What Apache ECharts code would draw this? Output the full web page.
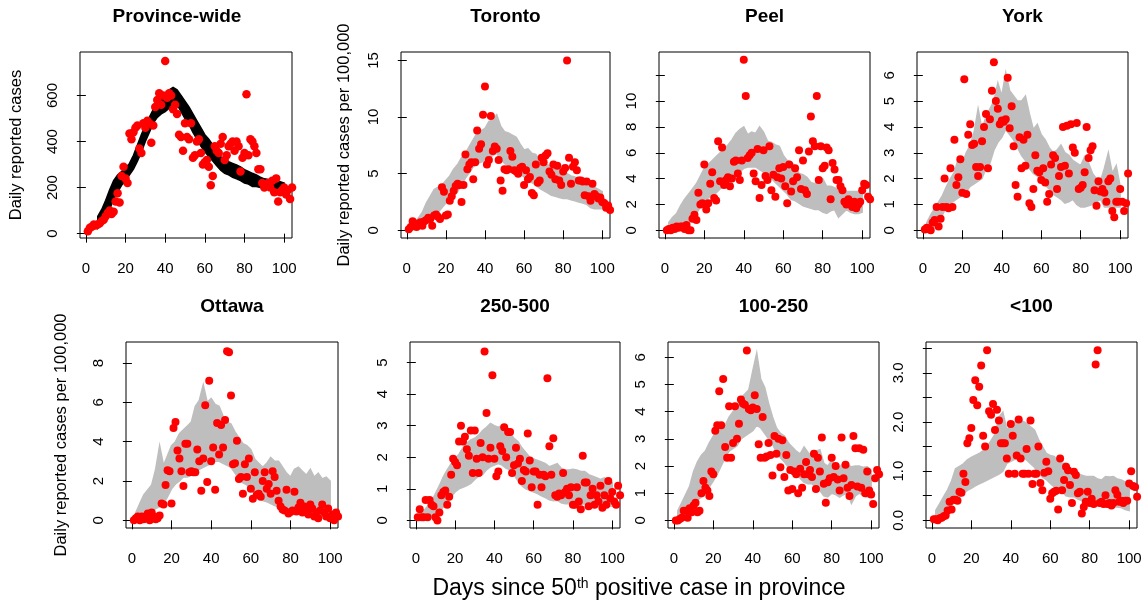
<!DOCTYPE html>
<html><head><meta charset="utf-8">
<script src="https://cdn.jsdelivr.net/npm/echarts@6/dist/echarts.min.js"></script>
<style>html,body{margin:0;padding:0;background:#fff}#c{width:1148px;height:609px}</style>
</head><body><div id="c"></div>
<script>
// ---------------- data ----------------
const days = [1,2,3,4,5,6,7,8,9,10,11,12,13,14,15,16,17,18,19,20,21,22,23,24,25,26,27,28,29,30,31,32,33,34,35,36,37,38,39,40,41,42,43,44,45,46,47,48,49,50,51,52,53,54,55,56,57,58,59,60,61,62,63,64,65,66,67,68,69,70,71,72,73,74,75,76,77,78,79,80,81,82,83,84,85,86,87,88,89,90,91,92,93,94,95,96,97,98,99,100,101,102,103,104];

const provVals = [10,25,30,40,35,40,45,55,60,75, 90,100,85,95,140,175,135,250,290,240, 220,435,410,440,460,470,370,350,480,460, 490,480,395,470,550,580,610,560,600,750, 590,610,600,540,560,520,430,420,360,480, 420,410,480,330,340,400,410,350,300,310, 320,290,210,250,380,360,350,390,420,320, 340,380,390,400,360,400,380,270,330,350, 605,340,410,400,380,350,280,280,220,200, 210,220,200,230,180,240,140,180,190,200, 170,190,150,200];
const torVals = [0.1,0.3,0.8,0.6,0.3,0.5,0.7,0.4,0.8,0.9, 1.1,1.0,0.4,1.3,1.4,1.2,1.0,3.8,3.4,1.3, 1.4,2.6,3.0,3.5,3.9,4.1,4.0,2.5,4.0,6.7, 5.4,5.8,6.0,4.5,6.0,8.8,7.2,7.6,10.2,12.7, 5.8,6.2,10.1,7.0,7.4,7.2,6.2,4.4,3.5,5.4, 5.3,5.4,7.0,6.5,5.3,5.2,5.0,5.5,5.6,4.0, 5.3,4.5,4.7,3.3,3.1,5.8,4.2,4.4,6.4,6.0, 6.6,6.8,5.2,4.9,5.8,4.5,5.7,4.4,4.0,5.2, 5.5,15.0,6.4,4.1,5.6,6.0,5.3,4.4,4.4,4.3, 3.1,4.3,3.0,2.6,4.1,3.2,3.0,2.8,2.9,2.5, 2.4,2.0,2.2,1.8];
const peelVals = [0.0,0.1,0.0,0.2,0.1,0.3,0.2,0.3,0.3,0.1, 0.4,0.0,0.0,0.9,1.2,0.8,2.9,2.0,2.1,5.1, 1.6,2.1,3.6,4.5,2.5,2.3,6.9,3.8,6.4,3.5, 3.9,4.1,3.4,4.0,5.3,5.4,4.4,3.9,5.4,13.2, 10.4,5.6,5.8,6.0,4.4,3.8,6.3,2.5,3.5,6.2, 4.2,3.9,6.5,3.1,4.3,2.6,4.1,4.8,4.0,4.9, 3.4,2.1,5.1,3.0,3.8,4.8,4.1,6.2,3.2,5.4, 3.1,2.8,6.1,8.8,6.9,6.5,10.4,3.9,6.5,4.8, 5.0,6.4,6.2,2.4,5.2,4.7,3.9,3.9,3.4,3.1, 2.2,2.0,2.4,2.0,1.8,2.2,1.7,2.0,2.2,3.1, 3.6,3.5,2.6,2.4];
const yorkVals = [0.03,0.1,0.05,0.0,0.3,0.4,0.9,0.15,0.45,0.9, 2.0,0.9,0.85,2.4,0.9,3.5,1.75,2.05,2.75,1.45, 5.85,1.4,3.7,4.1,3.3,3.35,2.45,2.1,2.45,3.45, 4.0,4.5,2.4,4.3,5.4,6.5,5.0,4.7,4.1,4.25, 4.2,4.3,5.9,3.95,4.8,3.25,1.75,1.3,3.6,2.4, 3.5,2.5,3.7,1.05,0.9,1.6,2.9,2.3,2.25,1.95, 2.4,1.85,1.1,1.4,2.55,2.9,2.8,1.6,2.1,2.45, 4.0,2.5,4.05,2.2,4.1,3.2,3.0,4.15,1.6,1.65, 1.75,2.25,4.0,2.8,3.1,3.25,1.55,0.95,1.9,1.5, 1.6,1.45,1.1,1.9,2.0,0.75,0.5,1.1,1.1,1.6, 1.1,0.75,1.05,2.2];
const ottVals = [0.0,0.1,0.2,0.0,0.2,0.05,0.2,0.35,0.0,0.4, 0.2,0.05,0.1,0.25,0.85,0.8,1.8,2.55,2.5,0.85, 4.7,5.0,3.55,3.15,2.5,1.75,3.9,3.9,2.45,2.5, 2.45,2.45,3.6,3.0,1.5,3.15,5.85,1.95,7.1,3.0, 3.7,1.55,4.95,3.35,4.85,3.7,5.1,8.6,8.55,6.35, 2.85,2.9,4.05,2.1,2.2,1.35,2.85,2.2,3.15,1.6, 1.1,2.45,1.3,1.35,1.2,2.0,2.45,1.6,1.85,1.35, 2.5,2.2,1.5,1.0,0.7,0.55,0.5,1.55,0.35,0.42, 0.5,1.45,0.45,0.65,0.9,0.4,0.7,0.5,0.3,0.8, 0.6,0.2,0.4,0.1,0.5,0.8,0.4,0.2,0.6,0.1, 0.3,0.0,0.4,0.2];
const v250Vals = [0.1,0.35,0.1,0.1,0.65,0.1,0.65,0.5,0.45,0.1, 0.0,0.25,0.8,0.9,0.95,0.5,0.75,1.45,1.95,1.85, 1.75,2.5,3.0,2.5,2.65,2.25,2.05,2.85,1.5,2.85, 1.95,1.5,2.45,2.0,5.35,3.4,1.95,2.3,4.6,1.95, 1.4,1.55,2.35,2.2,2.95,2.0,2.8,2.8,1.5,1.75, 2.3,1.8,1.95,1.25,1.6,1.55,2.75,1.9,1.05,1.55, 1.55,0.5,1.45,1.05,1.45,1.4,4.5,2.35,1.45,2.6, 0.8,0.75,0.85,0.8,1.5,0.9,1.0,0.8,1.05,0.5, 0.5,1.05,0.6,0.35,2.05,1.2,1.2,0.45,0.8,1.0, 0.5,0.8,0.6,1.1,0.4,0.8,0.5,1.25,0.7,0.9, 0.6,0.5,1.1,0.8];
const v100Vals = [0.0,0.0,0.05,0.1,0.35,0.35,0.1,0.45,0.3,0.55, 0.65,0.3,0.35,1.0,1.45,1.2,1.1,0.9,1.8,1.7, 3.3,3.5,4.75,3.5,5.2,2.7,2.3,4.2,2.3,2.85, 4.2,3.0,3.55,4.45,4.3,4.25,6.25,4.1,4.05,4.15, 4.6,4.1,2.8,2.3,3.8,2.3,2.35,2.85,2.4,1.65, 3.1,2.45,3.0,1.95,2.95,1.6,2.4,1.1,1.85,1.15, 1.8,1.7,1.0,1.9,1.2,1.7,2.15,1.7,1.85,1.6, 2.45,1.15,2.3,1.8,3.05,1.35,0.65,1.4,1.55,2.3, 1.6,2.0,1.5,1.1,3.05,1.55,2.05,1.2,0.9,1.3, 3.1,2.65,1.25,2.65,1.2,2.6,1.0,1.8,1.1,0.95, 0.6,1.55,1.85,1.7];
const vLt100Vals = [0.02,0.02,0.0,0.04,0.05,0.08,0.1,0.2,0.38,0.22, 0.42,0.42,0.4,0.58,0.56,0.95,0.78,1.57,1.67,1.88, 2.45,2.85,2.34,2.72,3.15,1.72,1.5,3.46,2.22,2.15, 2.37,1.84,2.25,2.03,1.57,1.57,1.57,1.26,0.95,1.96, 1.72,0.95,1.32,2.05,1.26,0.95,0.95,1.45,0.95,2.03, 0.74,0.95,0.95,1.5,0.76,0.61,0.97,1.19,1.0,0.44, 0.55,0.58,0.6,0.22,1.26,0.61,0.82,1.09,1.02,0.72, 0.35,0.99,0.92,0.55,0.58,0.14,0.27,0.38,0.58,0.35, 0.44,0.33,3.17,3.46,0.35,0.38,0.33,0.51,0.33,0.35, 0.3,0.35,0.61,0.52,0.38,0.4,0.35,0.4,0.4,0.75, 1.0,0.7,0.68,0.48];

// simulation envelopes (lower / upper edge of the simulated-trajectory band)
const provBandDays = [6,8,10,12,14,16,18,20,22,24,26,28,30,32,34,36,38,40,42,44,46,48,50,52,54,56,58,60,62,64,66,68,70,72,74,76,78,80,82,84,86,88,90,92,94,96,98,100];
const provLo = [25,45,73,105,150,180,210,230,255,280,315,355,400,440,480,505,520,530,545,560,560,530,500,475,440,410,380,355,335,315,295,275,262,255,245,238,230,220,215,205,205,200,198,195,195,195,195,190];
const provHi = [75,105,145,190,230,255,270,285,305,340,385,430,470,505,540,565,590,610,625,635,625,600,575,550,520,490,460,430,410,385,355,335,320,312,305,298,290,278,270,262,255,245,238,235,230,228,225,220];

const bandDays = [2,4,6,8,10,12,14,16,18,20,22,24,26,28,30,32,34,36,38,40,42,44,46,48,50,52,54,56,58,60,62,64,66,68,70,72,74,76,78,80,82,84,86,88,90,92,94,96,98,100];
const torLo = [0.0,0.1,0.2,0.3,0.6,0.9,1.3,1.6,2.0,2.4, 2.7,3.0,3.4,4.0,4.6,5.1,5.6,5.9,6.0,6.2, 6.4,6.6,6.8,6.3,5.9,5.7,5.5,5.4,5.0,4.7, 4.5,4.2,4.0,3.7,3.5,3.3,3.1,3.0,2.9,2.8, 2.8,2.7,2.6,2.5,2.4,2.3,2.0,1.9,1.9,1.9];
const torHi = [0.3,0.7,1.1,1.6,2.4,3.0,3.6,3.8,4.0,4.4, 4.8,5.4,5.8,6.4,6.8,7.4,8.0,8.6,8.8,9.0, 9.6,9.8,10.2,9.2,8.7,8.6,8.4,8.2,7.6,7.1, 7.2,6.8,6.7,6.2,5.9,5.8,5.6,5.7,5.4,5.3, 5.0,4.8,4.7,4.5,4.3,4.1,3.9,3.8,3.6,3.4];
const peelLo = [0.0,0.1,0.3,0.5,0.6,0.8,1.1,1.3,1.8,2.2, 2.5,2.7,2.9,3.2,3.4,3.7,3.9,4.1,4.5,4.8, 4.9,4.9,4.9,4.7,4.5,4.3,4.0,3.7,3.4,3.1, 2.8,2.4,2.3,2.1,1.9,1.8,1.7,1.6,1.6,1.4, 1.3,1.5,1.6,1.0,1.3,1.6,1.4,1.3,1.3,1.4];
const peelHi = [0.6,1.0,1.3,1.9,2.4,2.8,3.2,3.6,4.2,4.8, 5.1,5.4,5.7,6.0,6.3,6.6,7.0,7.5,7.8,8.0, 7.4,7.6,7.5,8.0,7.6,6.9,6.8,6.6,6.5,5.8, 5.4,5.3,5.0,4.4,4.3,4.1,3.7,3.6,3.9,4.0, 3.4,3.4,3.3,3.1,3.1,3.0,3.0,3.0,3.0,2.9];
const yorkLo = [0.0,0.05,0.15,0.35,0.6,0.9,1.05,1.15,1.25,1.35, 1.5,1.7,1.8,1.9,2.0,2.4,2.6,3.1,3.4,3.6, 3.9,3.7,3.5,3.2,2.9,2.7,2.4,2.2,2.1,1.9, 1.75,1.6,1.4,1.3,1.2,1.05,1.1,1.2,1.0,0.9, 0.9,0.95,1.0,1.1,1.2,0.9,0.9,0.9,0.9,0.9];
const yorkHi = [0.3,0.6,0.85,1.1,1.35,1.7,2.0,2.25,2.8,2.6, 3.0,3.3,3.8,4.7,3.9,4.4,4.7,5.0,5.7,5.2, 6.1,5.4,5.2,5.0,5.0,5.2,4.5,3.9,4.1,3.7, 3.5,3.2,3.0,3.1,3.3,3.0,2.9,2.7,2.6,2.5, 2.85,2.6,2.2,2.0,1.9,2.4,3.0,2.2,2.5,1.7];
const ottLo = [0.0,0.15,0.25,0.35,0.45,0.6,0.7,0.85,1.2,1.6, 1.85,2.0,2.2,2.2,2.3,2.5,2.6,2.7,2.8,2.9, 3.0,3.0,2.9,2.8,2.7,2.4,2.1,1.9,1.8,1.6, 1.3,1.15,1.0,0.95,0.85,0.75,0.7,0.68,0.6,0.5, 0.5,0.5,0.45,0.4,0.35,0.3,0.3,0.25,0.25,0.2];
const ottHi = [0.4,0.85,1.3,1.55,1.8,2.6,3.8,2.8,3.3,3.8, 4.0,4.4,4.6,4.8,5.0,5.8,6.1,6.9,6.0,6.2, 5.9,5.8,5.3,5.0,4.9,4.5,4.2,3.9,3.8,3.6, 3.1,2.9,2.7,2.9,3.2,3.0,3.0,2.7,2.4,2.2, 2.6,2.7,2.5,2.3,2.6,2.2,2.4,2.1,2.2,2.0];
const v250Lo = [0.0,0.05,0.08,0.12,0.18,0.3,0.42,0.6,0.75,0.9, 1.0,1.05,1.1,1.17,1.3,1.4,1.45,1.6,1.7,1.75, 1.8,1.75,1.65,1.6,1.45,1.25,1.1,1.0,0.95,0.9, 0.85,0.78,0.72,0.65,0.62,0.64,0.56,0.53,0.53,0.5, 0.42,0.5,0.53,0.5,0.5,0.45,0.5,0.48,0.45,0.45];
const v250Hi = [0.2,0.3,0.45,0.6,0.85,1.1,1.38,1.6,1.8,1.95, 2.1,2.3,2.45,2.55,2.6,2.7,2.85,2.95,3.07,3.0, 2.95,3.0,2.85,2.75,2.6,2.5,2.3,2.15,2.0,1.95, 1.9,1.85,1.8,1.7,1.75,1.8,1.65,1.6,1.6,1.62, 1.6,1.55,1.55,1.45,1.4,1.35,1.3,1.35,1.25,1.2];
const v100Lo = [0.0,0.1,0.2,0.37,0.55,0.75,0.85,1.0,1.23,1.45, 1.7,2.0,2.3,2.55,2.65,2.75,3.0,3.1,3.2,3.3, 3.5,3.4,3.2,3.0,2.8,2.5,2.3,2.15,1.95,1.85, 1.7,1.55,1.4,1.35,1.35,1.2,1.1,0.9,0.86,1.0, 0.95,0.86,0.95,1.0,0.62,0.9,1.0,0.9,0.86,0.86];
const v100Hi = [0.35,0.65,0.95,1.25,1.8,2.15,2.4,2.55,2.85,3.1, 3.3,3.35,3.5,3.8,4.0,4.2,4.5,4.65,4.8,5.5, 6.15,5.2,4.9,4.3,3.8,3.4,3.2,3.1,2.85,2.7, 2.55,2.45,2.7,2.5,2.35,2.55,2.6,2.1,2.0,2.2, 2.0,1.97,2.1,2.05,1.97,2.0,2.0,1.95,1.97,1.85];
const vLt100Lo = [0.0,0.07,0.13,0.2,0.3,0.38,0.47,0.55,0.61,0.65, 0.7,0.74,0.78,0.82,0.86,0.9,0.94,1.0,1.16,1.2, 1.24,1.28,1.27,1.23,1.15,1.08,0.95,0.88,0.83,0.75, 0.68,0.63,0.58,0.5,0.48,0.48,0.43,0.4,0.35,0.34, 0.34,0.34,0.33,0.28,0.27,0.27,0.27,0.26,0.22,0.2];
const vLt100Hi = [0.2,0.34,0.48,0.62,0.8,1.05,1.1,1.15,1.23,1.28, 1.32,1.36,1.42,1.5,1.62,1.75,2.1,2.2,1.84,1.95, 2.0,2.05,2.02,1.98,1.9,1.84,1.65,1.5,1.36,1.32, 1.3,1.2,1.16,1.16,1.05,0.95,0.95,0.92,0.89,0.89, 0.89,0.84,0.82,0.89,0.88,0.89,0.84,0.82,0.78,0.75];

// tick values / labels
const xTicks = [0,20,40,60,80,100];
const provYTicks = [0,200,400,600];
const torYTicks = [0,5,10,15];
const peelYTicks = [0,2,4,6,8,10,12];
const peelYLabels = [0,2,4,6,8,10];
const yorkYTicks = [0,1,2,3,4,5,6];
const ottYTicks = [0,2,4,6,8];
const v250YTicks = [0,1,2,3,4,5];
const v100YTicks = [0,1,2,3,4,5,6];
const lt100YTicks = [0,0.5,1,1.5,2,2.5,3,3.5];
const lt100YLabels = [0,1,2,3];

const titles = ['Province-wide','Toronto','Peel','York','Ottawa','250-500','100-250','<100'];

// ---------------- layout / style ----------------
const FONT = '"Liberation Sans", Arial, Helvetica, sans-serif';
const panels = [
  {vals: provVals, bd: provBandDays, lo: provLo, hi: provHi, band:'#000000', yt: provYTicks, yl: provYTicks, dec:0, ymin:-19, ymax:789, left:80, top:52, width:212, tx:177, sym:8.5},
  {vals: torVals, bd: bandDays, lo: torLo, hi: torHi, band:'#bebebe', yt: torYTicks, yl: torYTicks, dec:0, ymin:-0.68, ymax:15.74, left:401, top:52, width:209, tx:505.5, sym:8},
  {vals: peelVals, bd: bandDays, lo: peelLo, hi: peelHi, band:'#bebebe', yt: peelYTicks, yl: peelYLabels, dec:0, ymin:-0.6, ymax:13.8, left:659, top:52, width:211, tx:764.5, sym:8},
  {vals: yorkVals, bd: bandDays, lo: yorkLo, hi: yorkHi, band:'#bebebe', yt: yorkYTicks, yl: yorkYTicks, dec:0, ymin:-0.3, ymax:6.9, left:917, top:52, width:211, tx:1022.5, sym:8},
  {vals: ottVals, bd: bandDays, lo: ottLo, hi: ottHi, band:'#bebebe', yt: ottYTicks, yl: ottYTicks, dec:0, ymin:-0.39, ymax:9.07, left:126, top:342, width:212, tx:232, sym:8},
  {vals: v250Vals, bd: bandDays, lo: v250Lo, hi: v250Hi, band:'#bebebe', yt: v250YTicks, yl: v250YTicks, dec:0, ymin:-0.24, ymax:5.65, left:410, top:342, width:210, tx:515, sym:8},
  {vals: v100Vals, bd: bandDays, lo: v100Lo, hi: v100Hi, band:'#bebebe', yt: v100YTicks, yl: v100YTicks, dec:0, ymin:-0.28, ymax:6.56, left:668, top:342, width:211, tx:773.5, sym:8},
  {vals: vLt100Vals, bd: bandDays, lo: vLt100Lo, hi: vLt100Hi, band:'#bebebe', yt: lt100YTicks, yl: lt100YLabels, dec:1, ymin:-0.157, ymax:3.63, left:926, top:342, width:211, tx:1031.5, sym:8}
];
const GRID_H = 186;

const grid = [], xAxis = [], yAxis = [], series = [], graphic = [];
panels.forEach((p, i) => {
  grid.push({left: p.left, top: p.top, width: p.width, height: GRID_H, show: true,
    borderColor: '#000', borderWidth: 1, backgroundColor: 'transparent'});
  xAxis.push({gridIndex: i, type: 'value', min: -2.96, max: 103.96,
    axisLine: {show: false}, splitLine: {show: false},
    axisTick: {show: true, length: 9, inside: false, customValues: xTicks, lineStyle: {color: '#000', width: 1}},
    axisLabel: {show: true, customValues: xTicks, margin: 23, fontSize: 15, color: '#000', fontFamily: FONT}});
  yAxis.push({gridIndex: i, type: 'value', min: p.ymin, max: p.ymax,
    axisLine: {show: false}, splitLine: {show: false},
    axisTick: {show: true, length: 9, inside: false, customValues: p.yt, lineStyle: {color: '#000', width: 1}},
    axisLabel: {show: true, customValues: p.yl, rotate: 90, margin: 20, fontSize: 15, color: '#000', fontFamily: FONT,
      formatter: (v) => p.dec ? Number(v).toFixed(p.dec) : String(v)}});
  // simulated trajectory band
  series.push({type: 'custom', xAxisIndex: i, yAxisIndex: i, silent: true, clip: true, z: 2,
    data: [[p.bd[0], p.lo[0]]],
    renderItem: (params, api) => {
      const pts = [];
      for (let k = 0; k < p.bd.length; k++) pts.push(api.coord([p.bd[k], p.hi[k]]));
      for (let k = p.bd.length - 1; k >= 0; k--) pts.push(api.coord([p.bd[k], p.lo[k]]));
      return {type: 'polygon', shape: {points: pts}, style: {fill: p.band, stroke: p.band, lineWidth: 1.5, lineJoin: 'miter'}};
    }});
  // observed daily data
  series.push({type: 'scatter', xAxisIndex: i, yAxisIndex: i, z: 3, symbol: 'circle', symbolSize: p.sym,
    itemStyle: {color: '#ff0000', opacity: 1}, silent: true,
    data: days.map((d, k) => [d, p.vals[k]])});
  graphic.push({type: 'text', x: p.tx, y: i < 4 ? 17 : 307, silent: true,
    style: {text: titles[i], font: 'bold 19px ' + FONT, fill: '#000', align: 'center', verticalAlign: 'middle', textAlign: 'center', textVerticalAlign: 'middle'}});
});

const yTitles = [
  {text: 'Daily reported cases', x: 16, y: 145},
  {text: 'Daily reported cases per 100,000', x: 344, y: 145},
  {text: 'Daily reported cases per 100,000', x: 61, y: 435}
];
yTitles.forEach(t => graphic.push({type: 'text', x: t.x, y: t.y, rotation: Math.PI / 2, silent: true,
  style: {text: t.text, font: '16.5px ' + FONT, fill: '#000', align: 'center', verticalAlign: 'middle', textAlign: 'center', textVerticalAlign: 'middle'}}));

graphic.push({type: 'text', x: 639, y: 589, silent: true,
  style: {text: 'Days since 50{sup|th} positive case in province', font: '23px ' + FONT, fill: '#000',
    align: 'center', verticalAlign: 'middle', textAlign: 'center', textVerticalAlign: 'middle',
    rich: {sup: {fontSize: 14, fontFamily: FONT, fill: '#000', color: '#000', verticalAlign: 'top', lineHeight: 14}}}});

const chart = echarts.init(document.getElementById('c'), null, {renderer: 'canvas'});
chart.setOption({animation: false, backgroundColor: '#fff', grid, xAxis, yAxis, series, graphic});
</script>
</body></html>
